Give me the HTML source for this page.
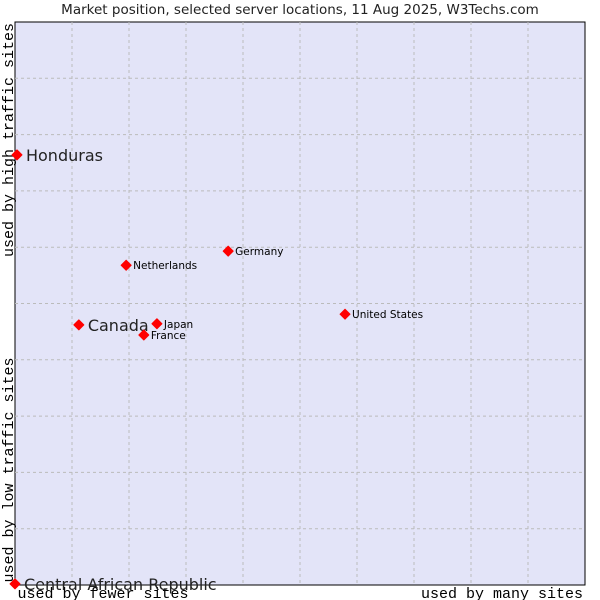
<!DOCTYPE html>
<html><head><meta charset="utf-8"><style>
html,body{margin:0;padding:0;background:#fff;width:600px;height:600px;overflow:hidden}
svg{display:block}
</style></head><body>
<svg id="chart" width="600" height="600">
<text x="300" y="14" text-anchor="middle" font-family="DejaVu Sans, sans-serif" font-size="13.5" fill="#222">Market position, selected server locations, 11 Aug 2025, W3Techs.com</text>
<rect x="15" y="22" width="570" height="563" fill="#e3e4f8" stroke="#000" stroke-width="1"/>
<g id="grid"></g>
<text x="103" y="598" text-anchor="middle" font-family="Liberation Mono, DejaVu Sans Mono, monospace" font-size="15" fill="#000">used by fewer sites</text>
<text x="502" y="598" text-anchor="middle" font-family="Liberation Mono, DejaVu Sans Mono, monospace" font-size="15" fill="#000">used by many sites</text>
<text transform="translate(13,470) rotate(-90)" text-anchor="middle" font-family="Liberation Mono, DejaVu Sans Mono, monospace" font-size="15" fill="#000">used by low traffic sites</text>
<text transform="translate(13,140) rotate(-90)" text-anchor="middle" font-family="Liberation Mono, DejaVu Sans Mono, monospace" font-size="15" fill="#000">used by high traffic sites</text>
<g id="points"></g>
</svg>
<script>
const categories=["Honduras","Canada","Netherlands","Germany","Japan","France","United States","Central African Republic"];
const xValues=[0.35,11.2,19.5,37.4,24.9,22.6,57.9,0];
const yValues=[76.4,46.2,56.8,59.3,46.4,44.4,48.1,0.2];
const highlighted=[true,true,false,false,false,false,false,true];
const L=15,T=22,W=570,H=563;
const xs=v=>L+v/100*W, ys=v=>T+H-v/100*H;
const NS="http://www.w3.org/2000/svg";
const grid=document.getElementById('grid');
for(let i=1;i<10;i++){
  const gx=document.createElementNS(NS,'line');
  gx.setAttribute('x1',xs(i*10));gx.setAttribute('x2',xs(i*10));gx.setAttribute('y1',T);gx.setAttribute('y2',T+H);
  gx.setAttribute('stroke','#bbb');gx.setAttribute('stroke-dasharray','3,3');
  
  
  grid.appendChild(gx);
  const gy=document.createElementNS(NS,'line');
  gy.setAttribute('y1',ys(i*10));gy.setAttribute('y2',ys(i*10));gy.setAttribute('x1',L);gy.setAttribute('x2',L+W);
  gy.setAttribute('stroke','#bbb');gy.setAttribute('stroke-dasharray','3,3');
  
  
  grid.appendChild(gy);
}
const pts=document.getElementById('points');
categories.forEach((c,i)=>{
  const x=xs(xValues[i]),y=ys(yValues[i]);
  const p=document.createElementNS(NS,'path');
  p.setAttribute('d',`M${x-5},${y}L${x},${y-5}L${x+5},${y}L${x},${y+5}Z`);
  p.setAttribute('fill','#f00');
  p.setAttribute('stroke','#f00');
  p.setAttribute('stroke-linejoin','round');
  
  
  pts.appendChild(p);
  const t=document.createElementNS(NS,'text');
  const big=highlighted[i];
  t.setAttribute('x',x+(big?9:7));t.setAttribute('y',y+(big?6:4));
  t.setAttribute('font-family','DejaVu Sans, Liberation Sans, sans-serif');
  t.setAttribute('font-size',big?16:10.5);
  t.setAttribute('fill',big?'#222':'#000');
  t.textContent=c;
  
  
  pts.appendChild(t);
});
</script>
</body></html>
